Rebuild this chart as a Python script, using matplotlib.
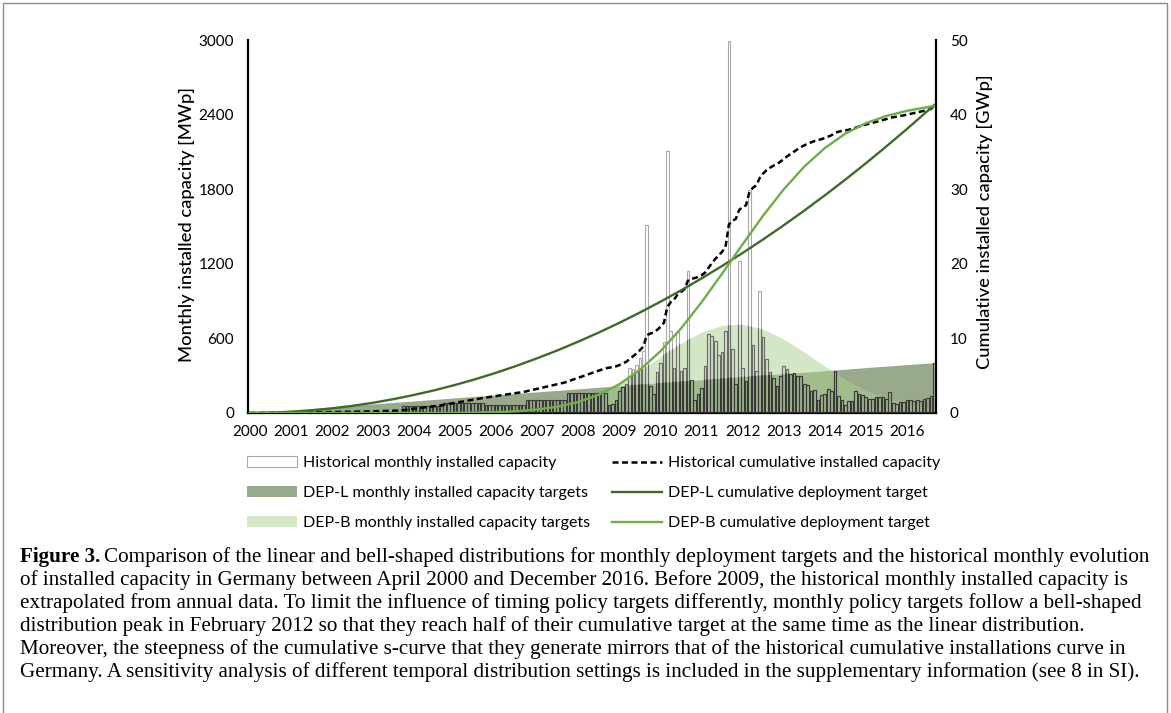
import matplotlib
matplotlib.use("Agg")
import matplotlib.pyplot as plt
import numpy as np
from matplotlib.patches import Patch, Rectangle
from matplotlib.lines import Line2D

# ---- data (months counted from April 2000 = 0 to December 2016 = 200) ----
year_labels = [str(y) for y in range(2000, 2017)]

# before 2009 the monthly values are extrapolated from annual data (MWp per month)
early_years = [2000, 2001, 2002, 2003, 2004, 2005, 2006, 2007, 2008]
early_months_in_year = [9, 12, 12, 12, 12, 12, 12, 12, 12]
early_monthly = [3, 6, 7, 12, 60, 80, 68, 105, 160]

# monthly installed capacity 2009-2016 (MWp)
monthly_2009 = [67, 75, 107, 174, 210, 230, 365, 355, 386, 442, 500, 1510]
monthly_2010 = [220, 155, 330, 402, 568, 2105, 660, 362, 654, 335, 362, 1140]
monthly_2011 = [268, 102, 150, 201, 375, 638, 622, 576, 466, 490, 662, 2990]
monthly_2012 = [515, 233, 1222, 362, 257, 1794, 547, 335, 979, 611, 434, 327]
monthly_2013 = [281, 220, 300, 375, 354, 316, 322, 300, 300, 233, 222, 177]
monthly_2014 = [182, 107, 145, 153, 193, 180, 335, 134, 107, 67, 94, 99]
monthly_2015 = [174, 155, 145, 129, 115, 115, 126, 126, 129, 115, 166, 80]
monthly_2016 = [75, 86, 86, 102, 107, 94, 102, 94, 115, 123, 139, 402]

# deployment targets, read every half year
dep_months = [0, 6, 12, 18, 24, 30, 36, 42, 48, 54, 60, 66, 72, 78, 84, 90, 96,
              102, 108, 114, 120, 126, 132, 138, 144, 150, 156, 162, 168, 174,
              180, 186, 192, 198, 200]
dep_l_monthly = [0, 12, 24, 36, 49, 61, 73, 85, 97, 109, 122, 134, 146, 158, 170,
                 182, 194, 207, 219, 231, 243, 255, 267, 279, 292, 304, 316, 328,
                 340, 352, 365, 377, 389, 401, 405]
dep_b_monthly = [0, 0, 0, 0, 0, 0, 0, 0, 0.2, 0.5, 1, 3, 7, 15, 30, 56, 97, 158,
                 240, 341, 453, 562, 651, 705, 713, 674, 595, 491, 378, 272, 183,
                 120, 78, 52, 46]
dep_l_cum = [0, 0.04, 0.16, 0.35, 0.62, 0.96, 1.37, 1.86, 2.42, 3.05, 3.76, 4.54,
             5.40, 6.33, 7.34, 8.41, 9.57, 10.79, 12.09, 13.47, 14.92, 16.44,
             18.04, 19.71, 21.45, 23.27, 25.16, 27.13, 29.17, 31.28, 33.47,
             35.74, 38.07, 40.48, 41.30]
dep_b_cum = [0, 0, 0, 0, 0, 0, 0, 0, 0, 0.01, 0.02, 0.06, 0.12, 0.24, 0.47, 0.85,
             1.48, 2.45, 3.86, 5.79, 8.28, 11.33, 14.84, 18.68, 22.62, 26.46,
             29.97, 33.02, 35.51, 37.44, 38.85, 39.82, 40.5, 41.0, 41.2]

hist_monthly = np.concatenate([np.repeat(early_monthly, early_months_in_year),
                               monthly_2009, monthly_2010, monthly_2011, monthly_2012,
                               monthly_2013, monthly_2014, monthly_2015, monthly_2016])
hist_cum = np.cumsum(hist_monthly) / 1000.0
months = np.arange(len(hist_monthly))

caption_lines = [
    "of installed capacity in Germany between April 2000 and December 2016. Before 2009, the historical monthly installed capacity is",
    "extrapolated from annual data. To limit the influence of timing policy targets differently, monthly policy targets follow a bell-shaped",
    "distribution peak in February 2012 so that they reach half of their cumulative target at the same time as the linear distribution.",
    "Moreover, the steepness of the cumulative s-curve that they generate mirrors that of the historical cumulative installations curve in",
    "Germany. A sensitivity analysis of different temporal distribution settings is included in the supplementary information (see 8 in SI).",
]
caption_first = "Comparison of the linear and bell-shaped distributions for monthly deployment targets and the historical monthly evolution"

# ---- colours ----
c_depl_area = "#99a98b"
c_depb_area = "#a9d18e"
c_depl_line = "#3f6a2b"
c_depb_line = "#70ad47"

plt.rcParams["font.family"] = ["Lato", "DejaVu Sans"]

W, H = 1171, 713
fig = plt.figure(figsize=(W / 100, H / 100), dpi=100)
ax = fig.add_axes([248 / W, 1 - 413 / H, (936 - 248) / W, (413 - 40) / H])
ax2 = ax.twinx()

area_l = ax.fill_between(dep_months, 0, dep_l_monthly, color=c_depl_area, lw=0, zorder=1)
area_b = ax.fill_between(dep_months, 0, dep_b_monthly, color=c_depb_area, alpha=0.5, lw=0, zorder=2)

ax.bar(months, hist_monthly, width=0.78, facecolor="none", edgecolor="#a8a8a8", lw=0.8, zorder=3)
# bar outlines look darker where they sit over the target areas
for col, poly, z in [("#6a6a6a", area_b, 3.1), ("#383838", area_l, 3.2)]:
    bb = ax.bar(months, hist_monthly, width=0.78, facecolor="none", edgecolor=col, lw=0.8, zorder=z)
    clip = poly.get_paths()[0]
    for p in bb:
        p.set_clip_path(clip, ax.transData)

ax2.plot(months, hist_cum, color="black", ls=(0, (2.4, 1.4)), lw=1.8)
ax2.plot(dep_months, dep_l_cum, color=c_depl_line, lw=1.7)
ax2.plot(dep_months, dep_b_cum, color=c_depb_line, lw=1.7)

ax.set_xlim(-0.5, len(hist_monthly) - 0.5)
ax.set_ylim(0, 3000)
ax2.set_ylim(0, 50)
ax.set_yticks(np.arange(0, 3001, 600))
ax2.set_yticks(np.arange(0, 51, 10))
ax.set_xticks(np.arange(0, len(year_labels) * 12, 12))
ax.set_xticklabels(year_labels)
ax.tick_params(axis="both", length=0, labelsize=11)
ax.tick_params(axis="x", pad=9)
ax.tick_params(axis="y", pad=10)
ax2.tick_params(axis="y", length=0, labelsize=11, pad=10)

for a in (ax, ax2):
    a.spines["top"].set_visible(False)
    for s in a.spines.values():
        s.set_linewidth(1.6)
        s.set_color("black")
ax.spines["right"].set_visible(False)
ax2.spines["left"].set_visible(False)
ax2.spines["bottom"].set_visible(False)

fig.text(187 / W, 1 - 225 / H, "Monthly installed capacity [MWp]", rotation=90,
         ha="center", va="center", fontsize=13.2, fontweight="medium")
fig.text(985 / W, 1 - 222 / H, "Cumulative installed capacity [GWp]", rotation=90,
         ha="center", va="center", fontsize=13.2, fontweight="medium")

handles = [
    Patch(facecolor="white", edgecolor="#a8a8a8", lw=0.8),
    Patch(facecolor=c_depl_area, edgecolor="none"),
    Patch(facecolor="#d4e8c6", edgecolor="none"),
    Line2D([], [], color="black", ls=(0, (2.4, 1.4)), lw=1.8),
    Line2D([], [], color=c_depl_line, lw=1.7),
    Line2D([], [], color=c_depb_line, lw=1.7),
]
labels = [
    "Historical monthly installed capacity",
    "DEP-L monthly installed capacity targets",
    "DEP-B monthly installed capacity targets",
    "Historical cumulative installed capacity",
    "DEP-L cumulative deployment target",
    "DEP-B cumulative deployment target",
]
fig.legend(handles, labels, ncol=2, loc="upper left", bbox_to_anchor=(247 / W, 1 - 456 / H),
           frameon=False, fontsize=11.5, handlelength=3.1, handletextpad=0.38,
           columnspacing=1.4, labelspacing=1.0, borderpad=0, borderaxespad=0)

# caption
cap_font = dict(family="Liberation Serif", fontsize=15.2, va="center")
r = fig.canvas.get_renderer()
y0 = 557
tb = fig.text(20 / W, 1 - y0 / H, "Figure 3.", fontweight="bold", **cap_font)
bx = tb.get_window_extent(r)
fig.text((bx.x1 + 4) / W, 1 - y0 / H, caption_first, **cap_font)
for k, line in enumerate(caption_lines):
    fig.text(20 / W, 1 - (y0 + 23 * (k + 1)) / H, line, **cap_font)

fig.add_artist(Rectangle((3 / W, -0.02), (1167 - 3) / W, (H - 3) / H + 0.02,
                         transform=fig.transFigure, fill=False, edgecolor="#8c8c8c", lw=1))

fig.savefig("out.png", dpi=100)
